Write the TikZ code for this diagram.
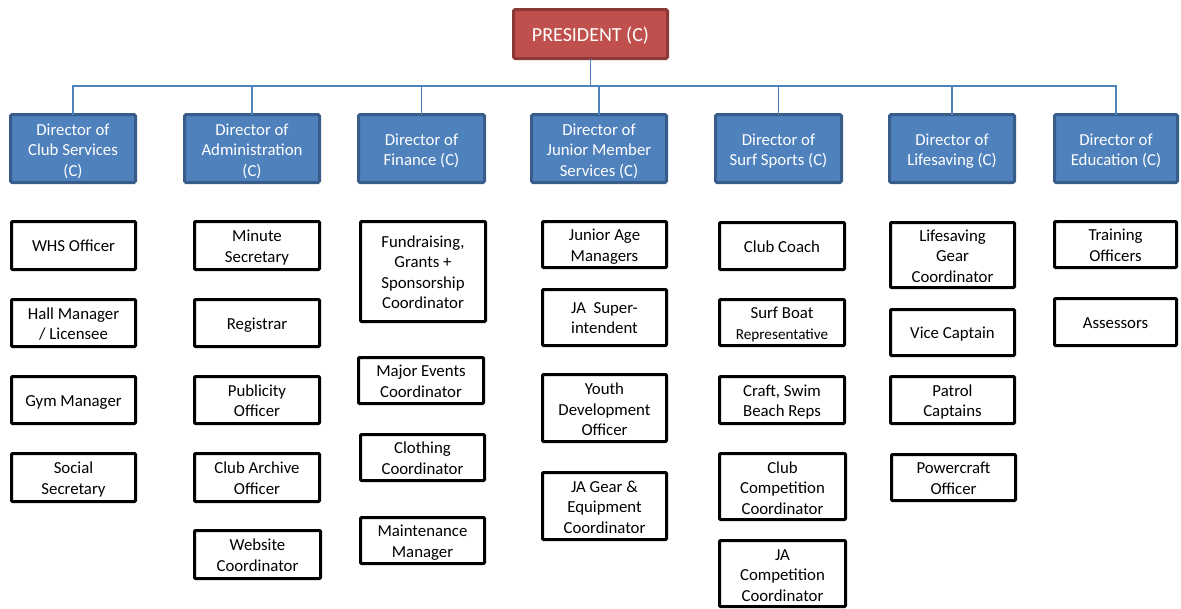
\documentclass[tikz,border=0pt]{standalone}
\usepackage{fontspec}
\setmainfont{Carlito}
\definecolor{presfill}{HTML}{C0504D}
\definecolor{presdraw}{HTML}{8C3A38}
\definecolor{dirfill}{HTML}{4F81BD}
\definecolor{dirdraw}{HTML}{385D8A}
\definecolor{linkcol}{HTML}{4F81BD}
\newcommand\boxstrut{\rule[-4.75pt]{0pt}{20.5pt}}
\newcommand\presstrut{\rule[-5.5pt]{0pt}{26pt}}
\tikzset{
  shapebase/.style={rectangle, inner sep=0pt, outer sep=0pt, line width=3pt},
  presbox/.style={shapebase, fill=presfill, draw=presdraw, rounded corners=1.5pt},
  dirbox/.style={shapebase, fill=dirfill, draw=dirdraw, rounded corners=1.5pt},
  childbox/.style={shapebase, fill=white, draw=black, rounded corners=1pt},
  textbase/.style={inner sep=0pt, outer sep=0pt, align=center,
    font=\fontsize{16.8}{20.5}\selectfont,
    execute at begin node=\boxstrut, execute at end node=\boxstrut},
  prestext/.style={textbase, text=white, font=\fontsize{20}{24}\selectfont,
    execute at begin node=\presstrut, execute at end node=\presstrut},
  dirtext/.style={textbase, text=white},
  childtext/.style={textbase, text=black},
  link/.style={draw=linkcol, line width=1.5pt}
}
% name, x1, y1, x2, y2 (outer edges, px), box style, text style, text
\newcommand\obox[8]{%
  \node[#6, minimum width={(#4-#2-3)*1pt}, minimum height={(#5-#3-3)*1pt}]
    (#1) at ({(#2+#4)/2},{(#3+#5)/2}) {};
  \node[#7] (#1-t) at (#1.center) {#8};}
\begin{document}
\begin{tikzpicture}[x=1pt,y=-1pt]
\useasboundingbox (0,0) rectangle (1181,608);
\coordinate (bus) at (0,86);
% president
\obox{pres}{512}{8}{669}{60}{presbox}{prestext}{PRESIDENT (C)}
% directors
\obox{d1}{9}{113}{137}{184}{dirbox}{dirtext,yshift=-4pt}{Director of\\Club Services\\(C)}
\obox{d2}{183}{113}{321}{184}{dirbox}{dirtext,yshift=-4pt}{Director of\\Administration\\(C)}
\obox{d3}{357}{113}{486}{184}{dirbox}{dirtext,yshift=-3.5pt}{Director of\\Finance (C)}
\obox{d4}{530}{113}{668}{184}{dirbox}{dirtext,yshift=-4pt}{Director of\\Junior Member\\Services (C)}
\obox{d5}{714}{113}{843}{184}{dirbox}{dirtext,yshift=-3.5pt}{Director of\\Surf Sports (C)}
\obox{d6}{888}{113}{1016}{184}{dirbox}{dirtext,yshift=-3.5pt}{Director of\\Lifesaving (C)}
\obox{d7}{1053}{113}{1179}{184}{dirbox}{dirtext,yshift=-3.5pt}{Director of\\Education (C)}
% connectors
\draw[link] (pres.south) -- (pres.south |- bus);
\draw[link] (d1.north) -- (d1.north |- bus) -- (d7.north |- bus) -- (d7.north);
\foreach \d in {d2,d3,d4,d5,d6} \draw[link] (\d.north) -- (\d.north |- bus);
% column 1
\obox{c11}{10}{220}{137}{271}{childbox}{childtext,yshift=-0.5pt}{WHS Officer}
\obox{c12}{10}{298}{137}{348}{childbox}{childtext,yshift=-3pt}{Hall Manager\\/ Licensee}
\obox{c13}{10}{375}{137}{425}{childbox}{childtext,yshift=-0.5pt}{Gym Manager}
\obox{c14}{10}{452}{137}{503}{childbox}{childtext,yshift=-3pt}{Social\\Secretary}
% column 2
\obox{c21}{193}{220}{321}{271}{childbox}{childtext,yshift=-3pt}{Minute\\Secretary}
\obox{c22}{193}{298}{321}{348}{childbox}{childtext,yshift=-0.5pt}{Registrar}
\obox{c23}{193}{375}{321}{425}{childbox}{childtext,yshift=-3pt}{Publicity\\Officer}
\obox{c24}{193}{452}{321}{503}{childbox}{childtext,yshift=-3pt}{Club Archive\\Officer}
\obox{c25}{193}{529}{322}{580}{childbox}{childtext,yshift=-3pt}{Website\\Coordinator}
% column 3
\obox{c31}{359}{220}{487}{323}{childbox}{childtext,yshift=-3pt}{Fundraising,\\Grants +\\Sponsorship\\Coordinator}
\obox{c32}{357}{356}{485}{405}{childbox}{childtext,yshift=-3pt}{Major Events\\Coordinator}
\obox{c33}{359}{433}{486}{482}{childbox}{childtext,yshift=-3pt}{Clothing\\Coordinator}
\obox{c34}{359}{516}{486}{565}{childbox}{childtext,yshift=-3pt}{Maintenance\\Manager}
% column 4
\obox{c41}{541}{220}{668}{269}{childbox}{childtext,yshift=-3pt}{Junior Age\\Managers}
\obox{c42}{541}{288}{668}{347}{childbox}{childtext,yshift=-3pt}{JA\ \ Super-\\intendent}
\obox{c43}{541}{373}{668}{443}{childbox}{childtext,yshift=-4pt}{Youth\\Development\\Officer}
\obox{c44}{541}{471}{668}{541}{childbox}{childtext,yshift=-3.5pt}{JA Gear \&\\Equipment\\Coordinator}
% column 5
\obox{c51}{718}{221}{846}{271}{childbox}{childtext,yshift=-0.5pt}{Club Coach}
\obox{c52}{718}{298}{846}{347}{childbox}{childtext,yshift=-3pt}{Surf Boat\\{\fontsize{15.2}{18}\selectfont Representative}}
\obox{c53}{718}{375}{846}{425}{childbox}{childtext,yshift=-3pt}{Craft, Swim\\Beach Reps}
\obox{c54}{718}{452}{847}{521}{childbox}{childtext,yshift=-4pt}{Club\\Competition\\Coordinator}
\obox{c55}{718}{539}{847}{608}{childbox}{childtext,yshift=-4pt}{JA\\Competition\\Coordinator}
% column 6
\obox{c61}{889}{221}{1016}{289}{childbox}{childtext,yshift=-3.5pt}{Lifesaving\\Gear\\Coordinator}
\obox{c62}{889}{308}{1016}{357}{childbox}{childtext,yshift=-0.5pt}{Vice Captain}
\obox{c63}{889}{375}{1016}{425}{childbox}{childtext,yshift=-3pt}{Patrol\\Captains}
\obox{c64}{890}{453}{1017}{502}{childbox}{childtext,yshift=-3pt}{Powercraft\\Officer}
% column 7
\obox{c71}{1053}{220}{1178}{269}{childbox}{childtext,yshift=-3pt}{Training\\Officers}
\obox{c72}{1053}{297}{1178}{347}{childbox}{childtext,yshift=-0.5pt}{Assessors}
\end{tikzpicture}
\end{document}
